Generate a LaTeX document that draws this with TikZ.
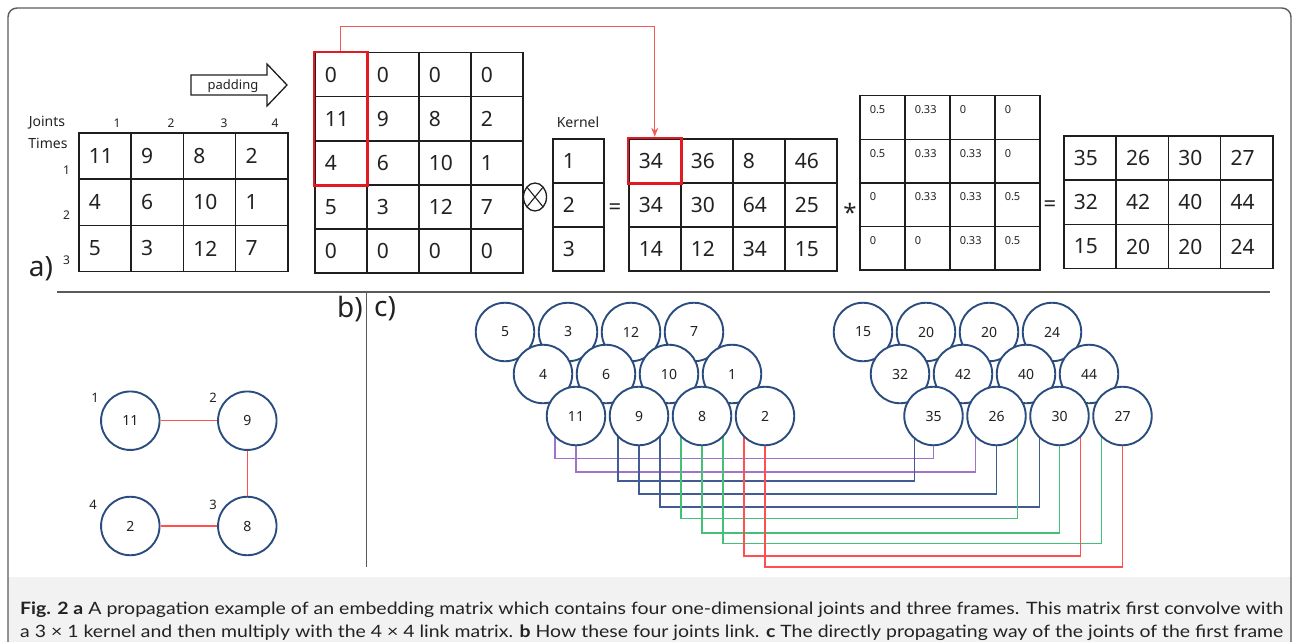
\documentclass[tikz,border=0pt]{standalone}
\usepackage{fontspec}
\usepackage{graphicx}
\setmainfont{Noto Sans}
\newfontfamily\capfont{Lato}
\usetikzlibrary{fit,shapes.geometric,arrows.meta,calc}
\definecolor{navy}{HTML}{2A4C7E}
\definecolor{gridc}{HTML}{1E1E1E}
\definecolor{txtc}{HTML}{222222}
\definecolor{redbox}{HTML}{E41A22}
\definecolor{redln}{HTML}{F25A5A}
\definecolor{purp}{HTML}{9F73C8}
\definecolor{bluel}{HTML}{425B94}
\definecolor{greenl}{HTML}{45C077}
\definecolor{redc}{HTML}{FF4F4F}
\definecolor{capbg}{HTML}{F2F2F2}
\definecolor{framec}{HTML}{5A5A5A}
\newcommand\fs[1]{\fontsize{#1}{#1}\selectfont}
\newcommand\mkmatrix[7]{%
  \pgfmathsetmacro\mtw{#5-20}%
  \foreach \rowvals [count=\r] in {#7} {%
    \foreach \v [count=\c] in \rowvals {%
      \node[#1, minimum width=#5pt, minimum height=#6pt, text width=\mtw pt] (#2-\r-\c) at ({#3+(\c-1)*#5},{#4+(\r-1)*#6}) {\v};
    }%
  }%
}
\begin{document}
\begin{tikzpicture}[x=1pt,y=-1pt,
  cell/.style={draw=gridc, line width=1.5pt, inner xsep=10pt, inner ysep=0pt, align=left, anchor=north west, text=txtc, font=\fs{21}},
  lcell/.style={cell, font=\fs{11}, text height=18pt, text depth=25.6pt},
  lbl/.style={text=txtc, inner sep=1pt},
  jc/.style={circle, draw=navy, line width=1.9pt, fill=white, minimum size=58.5pt, inner sep=0pt, text=txtc, font=\fs{14}},
  rbox/.style={draw=redbox, line width=2.6pt, inner sep=0pt},
  sep/.style={draw=framec, line width=1.2pt},
  conn/.style={line width=1.6pt}
]
\useasboundingbox (0,0) rectangle (1294,642);
\fill[capbg] (8,577) rectangle (1292,642);
\draw[framec, line width=1.4pt, rounded corners=9pt] (8,660) -- (8,8) -- (1291,8) -- (1291,660);

% ---------- panel a ----------
\node[lbl, font=\fs{14}] (joints) at (47,123) {Joints};
\node[lbl, font=\fs{14}] (times) at (48,143) {Times};
\foreach \t/\x in {1/117,2/171,3/224,4/275} \node[lbl, font=\fs{12}] (col\t) at (\x,123) {\t};
\foreach \t/\y in {1/170,2/215,3/260} \node[lbl, font=\fs{12}] (row\t) at (66.5,\y) {\t};
\node[lbl, font=\fs{28}] (la) at (41,269) {a)};

\mkmatrix{cell}{A}{78}{132}{52.25}{46.3}{{11,9,8,2},{4,6,10,1},{5,3,12,7}}

\draw[gridc, line width=1.3pt, line join=miter] (191,75) -- (267,75) -- (267,64) -- (287,85) -- (267,106) -- (267,95) -- (191,95) -- cycle;
\node[lbl, font=\fs{13}] (padtxt) at (233,86) {padding};

\mkmatrix{cell}{P}{314}{52}{52}{44}{{0,0,0,0},{11,9,8,2},{4,6,10,1},{5,3,12,7},{0,0,0,0}}

\node[draw=gridc, line width=1.3pt, ellipse, minimum width=23pt, minimum height=28pt, inner sep=0pt,
  path picture={\draw[gridc, line width=1.1pt] (path picture bounding box.north west) -- (path picture bounding box.south east)
                 (path picture bounding box.north east) -- (path picture bounding box.south west);}] (otimes) at (535,197) {};

\node[lbl, font=\fs{14}] (klab) at (578,122) {Kernel};
\mkmatrix{cell}{K}{552}{138}{51}{44}{{1},{2},{3}}
\node[lbl, font=\fs{22}] (eq1) at (615,209) {=};
\mkmatrix{cell}{C}{628}{138}{52}{44}{{34,36,8,46},{34,30,64,25},{14,12,34,15}}
\node[lbl, font=\fs{24}] (star) at (850,212) {*};
\mkmatrix{lcell}{L}{859}{95}{45}{43.6}{{0.5,0.33,0,0},{0.5,0.33,0.33,0},{0,0.33,0.33,0.5},{0,0,0.33,0.5}}
\node[lbl, font=\fs{22}] (eq2) at (1050,206) {=};
\mkmatrix{cell}{R}{1063}{135}{52.3}{44.3}{{35,26,30,27},{32,42,40,44},{15,20,20,24}}

\node[rbox, fit=(P-1-1)(P-3-1)] (redP) {};
\node[rbox, fit=(C-1-1)] (redC) {};
\draw[redln, line width=1.1pt, -{Stealth[length=9pt,width=7pt]}] (redP.north) -- ++(0,-24) -| (redC.north);

% ---------- separators ----------
\draw[sep] (57,292) -- (1270,292);
\draw[sep] (366.7,292) -- (366.7,567);
\node[lbl, font=\fs{28}] (lb) at (350,309) {b)};
\node[lbl, font=\fs{28}] (lc) at (385,309) {c)};

% ---------- panel b ----------
\node[jc] (b11) at (130.3,420.7) {11};
\node[jc] (b9) at (247.3,420.7) {9};
\node[jc] (b2) at (130.3,526) {2};
\node[jc] (b8) at (247.3,526) {8};
\node[lbl, font=\fs{13}] (bl1) at (95,398) {1};
\node[lbl, font=\fs{13}] (bl2) at (213,398) {2};
\node[lbl, font=\fs{13}] (bl4) at (93,505) {4};
\node[lbl, font=\fs{13}] (bl3) at (213,505) {3};
\draw[redc, line width=1.5pt] (b11) -- (b9);
\draw[redc, line width=1.5pt] (b9) -- (b8);
\draw[redc, line width=1.5pt] (b2) -- (b8);

% ---------- panel c : positions ----------
\foreach \v [count=\c] in {5,3,12,7} \coordinate (pL-1-\c) at ({505+(\c-1)*63},332);
\foreach \v [count=\c] in {4,6,10,1} \coordinate (pL-2-\c) at ({543+(\c-1)*63},374);
\foreach \v [count=\c] in {11,9,8,2} \coordinate (pL-3-\c) at ({576+(\c-1)*63},416);
\foreach \v [count=\c] in {15,20,20,24} \coordinate (pR-1-\c) at ({863+(\c-1)*63},332);
\foreach \v [count=\c] in {32,42,40,44} \coordinate (pR-2-\c) at ({900+(\c-1)*63},374);
\foreach \v [count=\c] in {35,26,30,27} \coordinate (pR-3-\c) at ({933.5+(\c-1)*63},416);

% connectors (behind the circles)
\draw[conn, purp]   ([xshift=-21pt]pL-3-1) -- ++(0,42.3)  -| (pR-3-1);
\draw[conn, purp]   (pL-3-1)               -- ++(0,55.7)  -| ([xshift=-21pt]pR-3-2);
\draw[conn, bluel]  ([xshift=-21pt]pL-3-2) -- ++(0,64.7)  -| ([xshift=-19pt]pR-3-1);
\draw[conn, bluel]  (pL-3-2)               -- ++(0,78)    -| (pR-3-2);
\draw[conn, bluel]  ([xshift=21pt]pL-3-2)  -- ++(0,90.7)  -| ([xshift=-20pt]pR-3-3);
\draw[conn, greenl] ([xshift=-21pt]pL-3-3) -- ++(0,102.3) -| ([xshift=21pt]pR-3-2);
\draw[conn, greenl] (pL-3-3)               -- ++(0,117)   -| (pR-3-3);
\draw[conn, greenl] ([xshift=21pt]pL-3-3)  -- ++(0,127.3) -| ([xshift=-21pt]pR-3-4);
\draw[conn, redc]   ([xshift=-21pt]pL-3-4) -- ++(0,140)   -| ([xshift=21pt]pR-3-3);
\draw[conn, redc]   (pL-3-4)               -- ++(0,150.7) -| (pR-3-4);

% circles, back row first
\foreach \v [count=\c] in {5,3,12,7} \node[jc] (cL-1-\c) at (pL-1-\c) {\v};
\foreach \v [count=\c] in {15,20,20,24} \node[jc] (cR-1-\c) at (pR-1-\c) {\v};
\foreach \v [count=\c] in {4,6,10,1} \node[jc] (cL-2-\c) at (pL-2-\c) {\v};
\foreach \v [count=\c] in {32,42,40,44} \node[jc] (cR-2-\c) at (pR-2-\c) {\v};
\foreach \v [count=\c] in {11,9,8,2} \node[jc] (cL-3-\c) at (pL-3-\c) {\v};
\foreach \v [count=\c] in {35,26,30,27} \node[jc] (cR-3-\c) at (pR-3-\c) {\v};

% ---------- caption ----------
\node[anchor=base west, inner sep=0pt, text=txtc] (cap1) at (20,614)
  {\resizebox{1263pt}{\height}{\capfont\fs{17}\textbf{Fig. 2 a} A propagation example of an embedding matrix which contains four one-dimensional joints and three frames. This matrix first convolve with}};
\node[anchor=base west, inner sep=0pt, text=txtc] (cap2) at (20,637)
  {\resizebox{1263pt}{\height}{\capfont\fs{17}a 3 × 1 kernel and then multiply with the 4 × 4 link matrix. \textbf{b} How these four joints link. \textbf{c} The directly propagating way of the joints of the first frame}};
\end{tikzpicture}
\end{document}
